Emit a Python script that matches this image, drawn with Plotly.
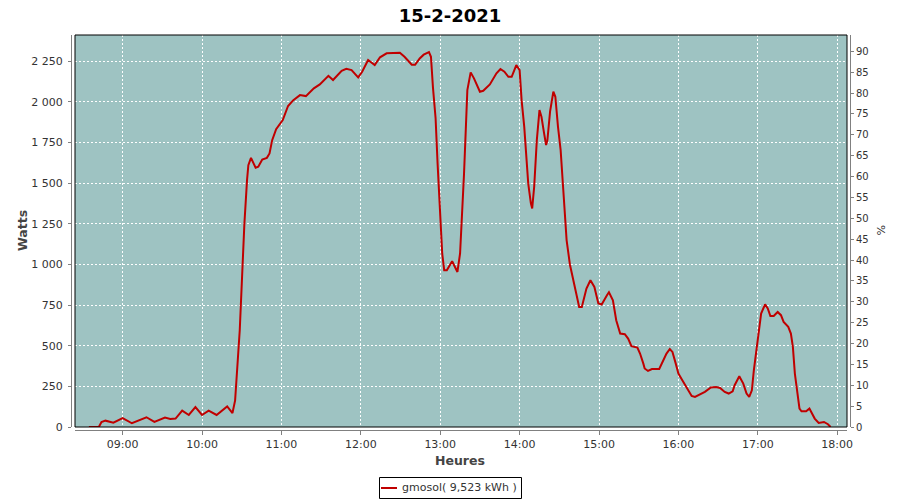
import plotly.graph_objects as go

# ---------------- data ----------------
DAY = "2021-02-15"
times = [
    "08:34:30", "08:42:00", "08:44:00", "08:47:00", "08:53:00", "09:00:00", "09:07:00", "09:18:00",
    "09:24:00", "09:32:00", "09:36:00", "09:40:00", "09:45:00", "09:50:00", "09:55:00", "10:00:00",
    "10:05:00", "10:11:00", "10:19:00", "10:23:00", "10:25:00", "10:26:00", "10:27:30", "10:28:30",
    "10:30:00", "10:32:00", "10:34:00", "10:35:00", "10:37:00", "10:40:30", "10:42:30", "10:45:30",
    "10:49:00", "10:51:00", "10:53:00", "10:56:00", "11:01:00", "11:05:00", "11:09:00", "11:14:00",
    "11:18:30", "11:24:30", "11:29:00", "11:35:30", "11:39:00", "11:45:30", "11:49:00", "11:53:00",
    "11:58:00", "12:01:00", "12:05:30", "12:10:30", "12:14:30", "12:19:30", "12:29:30", "12:33:00",
    "12:38:30", "12:41:00", "12:44:30", "12:47:30", "12:51:30", "12:53:00", "12:54:30", "12:56:30",
    "12:58:00", "12:59:30", "13:00:30", "13:01:30", "13:03:00", "13:05:00", "13:09:00", "13:11:00",
    "13:13:00", "13:15:00", "13:16:30", "13:18:00", "13:19:30", "13:20:30", "13:23:00", "13:25:30",
    "13:30:00", "13:32:30", "13:37:30", "13:42:30", "13:45:30", "13:48:30", "13:51:30", "13:54:00",
    "13:56:00", "13:57:30", "14:00:00", "14:01:30", "14:03:30", "14:05:00", "14:06:30", "14:08:30",
    "14:09:30", "14:11:00", "14:13:00", "14:15:00", "14:16:30", "14:18:30", "14:20:00", "14:21:00",
    "14:23:00", "14:25:30", "14:27:00", "14:29:00", "14:31:00", "14:33:00", "14:35:30", "14:38:00",
    "14:40:30", "14:42:00", "14:45:00", "14:47:00", "14:50:30", "14:53:30", "14:56:30", "14:59:30",
    "15:02:00", "15:06:00", "15:07:30", "15:10:30", "15:13:00", "15:16:00", "15:19:30", "15:22:00",
    "15:24:30", "15:29:00", "15:31:00", "15:33:30", "15:34:30", "15:37:00", "15:40:00", "15:45:30",
    "15:48:30", "15:51:00", "15:53:30", "15:55:30", "15:58:00", "16:00:00", "16:02:30", "16:06:00",
    "16:10:00", "16:12:30", "16:16:00", "16:20:00", "16:24:30", "16:28:30", "16:31:30", "16:35:00",
    "16:38:00", "16:41:00", "16:42:30", "16:46:00", "16:49:00", "16:51:30", "16:53:30", "16:55:30",
    "16:57:00", "16:59:00", "17:01:00", "17:02:30", "17:05:30", "17:07:30", "17:09:30", "17:12:00",
    "17:15:00", "17:17:30", "17:19:30", "17:23:00", "17:25:00", "17:26:30", "17:28:00", "17:30:00",
    "17:31:30", "17:33:00", "17:36:30", "17:39:00", "17:40:30", "17:43:00", "17:46:00", "17:50:00",
    "17:53:00", "17:55:00",
]
watts = [
    0, 0, 31, 39, 27, 55, 23, 60,
    31, 58, 49, 52, 101, 74, 123, 74,
    101, 74, 127, 86, 164, 267, 472, 595,
    900, 1250, 1519, 1611, 1656, 1595, 1601, 1646,
    1656, 1683, 1765, 1833, 1889, 1975, 2011, 2042,
    2036, 2084, 2108, 2161, 2135, 2192, 2204, 2196,
    2151, 2186, 2258, 2227, 2275, 2299, 2303, 2278,
    2229, 2229, 2268, 2291, 2307, 2278, 2090, 1900,
    1622, 1355, 1191, 1068, 965, 965, 1020, 985,
    954, 1068, 1293, 1560, 1868, 2073, 2182, 2145,
    2063, 2069, 2108, 2176, 2203, 2186, 2155, 2155,
    2196, 2227, 2196, 2011, 1847, 1663, 1499, 1376,
    1345, 1478, 1765, 1950, 1909, 1807, 1735, 1765,
    1940, 2063, 2032, 1847, 1704, 1458, 1150, 1000,
    903, 835, 739, 739, 852, 903, 862, 760,
    754, 811, 829, 780, 657, 575, 571, 544,
    497, 489, 452, 390, 360, 345, 357, 357,
    411, 452, 480, 462, 390, 329, 294, 246,
    191, 185, 201, 216, 243, 246, 240, 216,
    206, 220, 257, 312, 267, 206, 185, 226,
    349, 472, 595, 698, 755, 729, 683, 683,
    708, 688, 647, 616, 575, 493, 329, 216,
    113, 97, 97, 113, 89, 52, 25, 31,
    17, 0,
]
series_name = "gmosol( 9,523 kWh )"
title_text = "15-2-2021"
x_title = "Heures"
y_title = "Watts"
y2_title = "%"

# ---------------- layout constants ----------------
# the page body adds an 8px offset; the figure is laid out so that
# screen positions match the 900x500 reference
OFF = 8
W, H = 900 - OFF, 500 - OFF
ML, MR, MT, MB = 71 - OFF, 50, 35 - OFF, 70
PW, PH = W - ML - MR, H - MT - MB


def px(xs_):
    return (xs_ - OFF - ML) / PW


def py(ys_):
    return (H - MB - (ys_ - OFF)) / PH


x_dom = [px(75), px(847)]
y_dom = [py(427), 1.0]

BG = "#9EC3C2"
RED = "#C00000"
TICKFONT = dict(family="DejaVu Sans", size=11, color="#333333")
GRAY = "#808080"

xs = [f"{DAY} {t}" for t in times]

fig = go.Figure()
fig.add_trace(go.Scatter(x=xs, y=watts, mode="lines", name=series_name,
                         line=dict(color=RED, width=2), showlegend=False))
fig.add_trace(go.Scatter(x=[], y=[], yaxis="y2", showlegend=False, hoverinfo="skip"))

fig.update_layout(
    width=W, height=H,
    margin=dict(l=ML, r=MR, t=MT, b=MB, pad=0),
    paper_bgcolor="white", plot_bgcolor=BG,
    separators=", ",
    showlegend=False,
    title=dict(text=title_text, x=(450 - OFF) / W, xref="container", xanchor="center",
               y=1 - (16 - OFF) / H, yref="container", yanchor="middle",
               font=dict(family="DejaVu Sans", size=18, color="black", weight="bold")),
    xaxis=dict(
        type="date", domain=x_dom, anchor="free", position=0,
        range=[f"{DAY} 08:24:00", f"{DAY} 18:07:24"],
        tick0=f"{DAY} 09:00:00", dtick=3600000, tickformat="%H:%M",
        showgrid=True, gridcolor="white", griddash="2px,2px", gridwidth=1,
        showline=True, linecolor=GRAY, linewidth=1,
        ticks="outside", ticklen=4, tickcolor=GRAY, tickfont=TICKFONT,
        zeroline=False,
    ),
    yaxis=dict(
        domain=y_dom, anchor="free", position=0,
        range=[0, 2412], tick0=0, dtick=250, tickformat=",d",
        showgrid=True, gridcolor="white", griddash="2px,2px", gridwidth=1,
        showline=True, linecolor=GRAY, linewidth=1,
        ticks="outside", ticklen=3, tickcolor=GRAY, tickfont=TICKFONT,
        ticklabelstandoff=3,
        zeroline=False,
    ),
    yaxis2=dict(
        domain=y_dom, anchor="free", position=1, overlaying="y", side="right",
        range=[0, 93.9], tick0=0, dtick=5,
        showgrid=False, zeroline=False,
        showline=True, linecolor=GRAY, linewidth=1,
        ticks="outside", ticklen=3, tickcolor=GRAY,
        tickfont=dict(family="DejaVu Sans", size=10, color="#333333"),
    ),
)

shapes = [
    # plot border
    dict(type="rect", xref="paper", yref="paper", x0=x_dom[0], x1=x_dom[1],
         y0=y_dom[0], y1=y_dom[1], line=dict(color="black", width=1), layer="above"),
    # legend box
    dict(type="rect", xref="paper", yref="paper", x0=px(379.5), x1=px(521.5),
         y0=py(498.5), y1=py(477.5), line=dict(color="black", width=1),
         fillcolor="white", layer="above"),
    dict(type="line", xref="paper", yref="paper", x0=px(381), x1=px(397),
         y0=py(488), y1=py(488), line=dict(color=RED, width=2), layer="above"),
]
fig.update_layout(shapes=shapes)

ann = [
    dict(text=y_title, xref="paper", yref="paper", x=px(22), y=py(231), textangle=-90,
         showarrow=False, xanchor="center", yanchor="middle",
         font=dict(family="DejaVu Sans", size=12.5, color="#444444", weight="bold")),
    dict(text=x_title, xref="paper", yref="paper", x=px(460), y=py(460),
         showarrow=False, xanchor="center", yanchor="middle",
         font=dict(family="DejaVu Sans", size=12.5, color="#444444", weight="bold")),
    dict(text=y2_title, xref="paper", yref="paper", x=px(881), y=py(230), textangle=90,
         showarrow=False, xanchor="center", yanchor="middle",
         font=dict(family="DejaVu Sans", size=11, color="#333333")),
    dict(text=series_name, xref="paper", yref="paper", x=px(400), y=py(488),
         showarrow=False, xanchor="left", yanchor="middle",
         font=dict(family="DejaVu Sans", size=11, color="#333333")),
]
fig.update_layout(annotations=ann)

fig.write_html("out.html")
